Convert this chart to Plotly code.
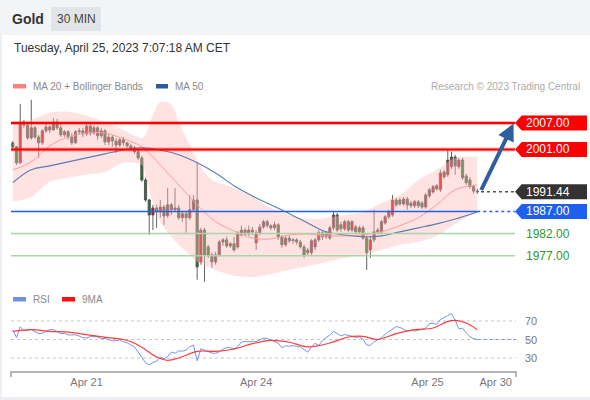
import plotly.graph_objects as go

# ---------------- data ----------------
OPEN = [2002.5, 2001.6, 1998.0, 2007.2, 2006.5, 2003.6, 2005.9, 2003.8, 2002.5, 2005.2,
        2006.1, 2005.4, 2007.2, 2005.9, 2004.3, 2005.0, 2003.8, 2002.5, 2005.0, 2005.2,
        2004.5, 2006.3, 2004.7, 2005.9, 2004.1, 2005.2, 2002.7, 2003.8, 2002.9, 2002.0,
        2003.2, 2002.5, 2001.8, 2001.4, 2000.5, 1999.1, 1994.1, 1989.6, 1986.2, 1987.8,
        1986.9, 1988.0, 1986.0, 1988.5, 1987.4, 1987.8, 1985.6, 1986.5, 1985.6, 1987.4,
        1989.6, 1975.6, 1982.8, 1979.0, 1977.2, 1975.6, 1977.2, 1980.1, 1980.6, 1979.2,
        1979.7, 1979.0, 1981.7, 1982.8, 1981.9, 1982.8, 1979.9, 1982.2, 1983.5, 1984.7,
        1983.8, 1983.3, 1984.0, 1981.3, 1979.5, 1981.0, 1980.4, 1980.6, 1980.1, 1979.0,
        1978.3, 1977.7, 1979.0, 1980.6, 1982.2, 1981.3, 1981.0, 1983.3, 1986.2, 1984.0,
        1983.1, 1984.7, 1982.8, 1983.5, 1982.4, 1983.3, 1981.0, 1978.3, 1980.6, 1982.4,
        1982.4, 1984.4, 1985.8, 1986.2, 1989.6, 1989.6, 1988.7, 1989.8, 1988.9, 1988.3,
        1989.2, 1988.9, 1988.0, 1990.5, 1991.4, 1992.1, 1991.9, 1994.8, 1995.3, 1997.1,
        1999.3, 1997.1, 1998.6, 1995.0, 1994.1, 1992.6, 1991.6]
HIGH = [2002.9, 2001.8, 2011.3, 2007.7, 2007.2, 2012.2, 2006.3, 2004.3, 2005.6, 2006.8,
        2006.5, 2008.1, 2007.9, 2007.2, 2005.4, 2005.4, 2004.7, 2005.4, 2005.9, 2005.9,
        2006.8, 2006.8, 2006.5, 2006.3, 2005.9, 2005.6, 2004.5, 2004.3, 2003.6, 2003.6,
        2003.8, 2002.7, 2002.3, 2001.8, 2000.9, 1999.6, 1994.6, 1989.8, 1988.5, 1988.5,
        1989.6, 1988.5, 1992.3, 1988.9, 1992.3, 1988.5, 1987.1, 1986.9, 1990.7, 1990.7,
        1998.0, 1983.3, 1983.3, 1979.5, 1977.7, 1977.9, 1980.6, 1981.0, 1981.3, 1980.1,
        1981.3, 1982.6, 1983.8, 1983.3, 1983.8, 1983.5, 1982.8, 1984.2, 1985.1, 1985.1,
        1984.2, 1984.7, 1984.4, 1981.7, 1981.5, 1981.5, 1981.0, 1981.0, 1980.6, 1979.5,
        1978.8, 1980.8, 1981.0, 1982.8, 1982.8, 1982.6, 1983.8, 1986.9, 1986.7, 1984.7,
        1985.1, 1985.1, 1985.1, 1984.0, 1983.8, 1983.8, 1981.5, 1981.5, 1987.4, 1983.3,
        1985.1, 1986.2, 1987.4, 1990.7, 1990.1, 1990.1, 1990.3, 1990.3, 1989.4, 1989.6,
        1989.6, 1989.4, 1991.2, 1992.3, 1993.0, 1993.2, 1996.4, 1996.4, 2000.9, 2000.5,
        1999.8, 1999.1, 1999.1, 1995.5, 1994.8, 1993.0, 1992.1]
LOW = [2000.9, 1997.5, 1997.7, 2005.9, 2003.2, 2003.2, 2003.4, 1999.1, 2002.0, 2004.7,
       2004.7, 2005.2, 2005.4, 2003.8, 2003.8, 2003.2, 2002.0, 2002.3, 2004.3, 2003.8,
       2004.1, 2004.1, 2004.3, 2003.2, 2003.6, 2002.0, 2002.0, 2001.6, 2000.2, 2001.6,
       2001.8, 2001.4, 2000.7, 2000.0, 1998.6, 1993.7, 1989.2, 1981.7, 1982.8, 1983.3,
       1985.6, 1984.0, 1985.6, 1986.2, 1986.9, 1985.1, 1984.7, 1982.2, 1985.1, 1986.9,
       1971.6, 1975.0, 1971.1, 1976.5, 1974.3, 1975.0, 1976.8, 1979.2, 1978.8, 1978.8,
       1977.9, 1978.6, 1981.3, 1981.5, 1981.5, 1981.7, 1978.3, 1981.7, 1983.1, 1983.3,
       1982.8, 1982.8, 1980.6, 1978.8, 1979.0, 1979.9, 1979.7, 1979.5, 1978.6, 1976.5,
       1977.0, 1977.2, 1978.3, 1980.1, 1980.6, 1980.8, 1980.6, 1982.8, 1982.4, 1982.4,
       1982.6, 1982.4, 1982.4, 1981.9, 1981.9, 1980.6, 1973.8, 1976.5, 1980.1, 1981.9,
       1981.9, 1984.0, 1985.3, 1985.8, 1988.0, 1988.3, 1988.3, 1987.4, 1987.8, 1987.8,
       1987.8, 1987.6, 1987.6, 1990.1, 1991.0, 1991.7, 1991.4, 1994.4, 1994.8, 1996.6,
       1995.3, 1996.6, 1994.1, 1993.0, 1992.1, 1991.0, 1991.0]
CLOSE = [2001.6, 1998.0, 2007.2, 2006.5, 2003.6, 2005.9, 2003.8, 2002.5, 2005.2, 2006.1,
         2005.4, 2007.2, 2005.9, 2004.3, 2005.0, 2003.8, 2002.5, 2005.0, 2005.2, 2004.5,
         2006.3, 2004.7, 2005.9, 2004.1, 2005.2, 2002.7, 2003.8, 2002.9, 2002.0, 2003.2,
         2002.5, 2001.8, 2001.4, 2000.5, 1999.1, 1994.1, 1989.6, 1986.2, 1987.8, 1986.9,
         1988.0, 1986.0, 1988.5, 1987.4, 1987.8, 1985.6, 1986.5, 1985.6, 1987.4, 1989.6,
         1974.5, 1982.8, 1977.2, 1977.2, 1975.6, 1977.2, 1980.1, 1980.6, 1979.2, 1979.7,
         1978.3, 1982.2, 1982.8, 1981.9, 1982.8, 1982.4, 1982.2, 1983.5, 1984.7, 1983.8,
         1983.3, 1984.0, 1981.3, 1979.5, 1981.0, 1980.4, 1980.6, 1980.1, 1979.0, 1977.2,
         1977.7, 1980.4, 1980.6, 1982.2, 1981.3, 1982.2, 1983.3, 1986.2, 1982.8, 1983.1,
         1984.7, 1982.8, 1984.7, 1982.4, 1983.3, 1981.0, 1977.7, 1980.6, 1982.4, 1982.8,
         1984.7, 1985.8, 1986.9, 1989.6, 1988.5, 1988.7, 1989.8, 1988.5, 1988.3, 1989.2,
         1988.3, 1988.0, 1990.7, 1991.9, 1992.6, 1992.8, 1995.7, 1995.9, 1998.6, 1999.3,
         1997.3, 1998.6, 1994.6, 1993.5, 1992.6, 1991.6, 1991.44]

BAND_X = [0, 5, 10, 15, 20, 25, 30, 35, 36, 38, 40, 43, 45, 48, 50, 53, 55, 60, 65, 70,
          75, 80, 85, 90, 95, 100, 105, 110, 115, 120, 126]
BAND_UPPER = [2007.2, 2007.7, 2009.3, 2009.5, 2008.6, 2007.2, 2005.4, 2003.6, 2004.3, 2008.8,
              2011.7, 2011.1, 2007.2, 2002.0, 1998.6, 1994.8, 1993.7, 1992.3, 1990.3, 1987.8,
              1986.2, 1985.3, 1985.6, 1986.2, 1986.9, 1988.9, 1990.7, 1994.1, 1996.4, 1999.1,
              1999.3]
BAND_LOWER = [1989.2, 1990.3, 1993.7, 1994.6, 1995.3, 1995.9, 1998.0, 1997.5, 1995.3, 1988.9,
              1984.7, 1981.3, 1979.5, 1977.2, 1975.6, 1974.5, 1973.8, 1972.5, 1972.2, 1972.9,
              1973.8, 1974.7, 1975.6, 1976.5, 1977.2, 1978.3, 1979.5, 1980.1, 1981.5, 1984.2,
              1986.9]
MA_X = [0, 5, 10, 15, 20, 25, 30, 35, 40, 45, 50, 55, 60, 65, 70, 75, 80, 85, 90, 95,
        100, 105, 110, 115, 120, 126]
MA20 = [1996.4, 1998.2, 2001.8, 2003.8, 2004.7, 2004.7, 2003.4, 2001.6, 1997.5, 1993.0,
        1988.5, 1984.7, 1982.6, 1981.0, 1980.8, 1981.7, 1981.9, 1981.5, 1981.5, 1981.7,
        1982.4, 1983.8, 1985.6, 1988.5, 1991.9, 1993.0]
MA50 = [1993.5, 1996.4, 1997.3, 1998.2, 1999.1, 2000.0, 2000.9, 2001.4, 2000.9, 1999.8,
        1998.0, 1995.7, 1992.8, 1990.5, 1988.5, 1986.5, 1984.4, 1982.4, 1981.7, 1981.3,
        1981.5, 1982.4, 1983.3, 1984.2, 1985.3, 1986.9]

RSI = [60.0, 52.2, 63.7, 59.6, 59.8, 60.8, 58.4, 56.4, 56.8, 59.2,
       60.7, 60.7, 58.3, 56.4, 56.6, 54.9, 55.0, 55.1, 53.7, 52.0,
       51.8, 53.1, 53.2, 52.8, 51.0, 51.3, 49.7, 48.8, 48.8, 49.5,
       47.6, 46.5, 44.1, 41.9, 36.4, 30.6, 24.9, 22.5, 25.3, 26.4,
       30.9, 29.2, 31.5, 36.5, 35.1, 37.7, 37.4, 38.6, 42.2, 44.1,
       27.0, 40.0, 38.5, 36.5, 35.4, 35.0, 36.7, 39.5, 41.2, 41.2,
       40.0, 42.4, 47.3, 47.7, 47.7, 47.5, 47.6, 49.7, 51.6, 51.2,
       49.6, 48.4, 46.1, 41.1, 43.2, 42.7, 43.3, 42.6, 42.0, 39.1,
       36.2, 42.1, 45.8, 43.7, 48.8, 52.2, 54.7, 58.9, 56.4, 53.9,
       55.4, 54.7, 53.6, 52.3, 52.7, 50.3, 44.0, 43.6, 47.6, 49.7,
       52.1, 55.6, 58.1, 60.8, 64.0, 63.1, 61.3, 59.1, 59.7, 59.1,
       60.1, 60.7, 62.2, 67.1, 67.6, 66.4, 71.5, 73.3, 75.8, 78.0,
       71.0, 61.4, 62.2, 57.1, 53.2, 50.9, 50.0]
RSI_MA_X = [0, 5, 10, 15, 20, 25, 30, 33, 36, 39, 42, 45, 50, 55, 60, 65, 70, 75, 80, 86,
            91, 95, 99, 104, 109, 114, 118, 120, 123, 126]
RSI_MA = [58.8, 60.6, 58.8, 58.0, 55.2, 52.3, 50.0, 46.0, 39.0, 31.0, 27.5, 30.0, 37.2, 37.2,
          39.7, 45.5, 49.0, 47.0, 42.0, 46.2, 52.7, 53.4, 50.0, 56.3, 60.6, 62.4, 69.6, 70.7,
          67.8, 60.6]

RESISTANCES = [2007.00, 2001.00]
PIVOT = 1987.00
SUPPORTS = [1982.00, 1977.00]
LAST_PRICE = 1991.44
TICK_POS = [20, 66, 112.5, 131]
TICK_TEXT = ["Apr 21", "Apr 24", "Apr 25", "Apr 30"]
RSI_LEVELS = [70, 50, 30]

# ---------------- geometry helpers (pixel -> paper) ----------------
W, H = 590, 400
def px(x):
    return x / W
def py(y):
    return 1 - y / H

FONT = "Liberation Sans, Arial, Helvetica, sans-serif"
X_RANGE = [-0.5, 136.5]
IDX = list(range(len(CLOSE)))

fig = go.Figure()

# Bollinger band
fig.add_trace(go.Scatter(x=BAND_X, y=BAND_UPPER, mode="lines", line=dict(width=0, shape="spline"),
                         hoverinfo="skip", showlegend=False))
fig.add_trace(go.Scatter(x=BAND_X, y=BAND_LOWER, mode="lines", line=dict(width=0, shape="spline"),
                         fill="tonexty", fillcolor="rgba(255,185,185,0.42)",
                         hoverinfo="skip", showlegend=False))
# moving averages
fig.add_trace(go.Scatter(x=MA_X, y=MA20, mode="lines", line=dict(color="#ff9a9a", width=1, shape="spline"),
                         showlegend=False))
fig.add_trace(go.Scatter(x=MA_X, y=MA50, mode="lines", line=dict(color="#5a7db3", width=1.1, shape="spline"),
                         showlegend=False))
# candles
fig.add_trace(go.Candlestick(
    x=IDX, open=OPEN, high=HIGH, low=LOW, close=CLOSE,
    increasing=dict(fillcolor="#e60000", line=dict(color="#505050", width=0.9)),
    decreasing=dict(fillcolor="#1f7a1f", line=dict(color="#505050", width=0.9)),
    whiskerwidth=0, showlegend=False))

# RSI pane
fig.add_trace(go.Scatter(x=IDX, y=RSI, yaxis="y2", mode="lines",
                         line=dict(color="#7595e8", width=1), showlegend=False))
fig.add_trace(go.Scatter(x=RSI_MA_X, y=RSI_MA, yaxis="y2", mode="lines",
                         line=dict(color="#ff3b3b", width=1.2, shape="spline"), showlegend=False))

shapes = []
# frame / header backgrounds
shapes.append(dict(type="rect", xref="paper", yref="paper", x0=0, x1=1, y0=py(35), y1=1,
                   fillcolor="#f3f4f6", line=dict(width=0), layer="below"))
shapes.append(dict(type="rect", xref="paper", yref="paper", x0=0, x1=px(2), y0=0, y1=py(35),
                   fillcolor="#eceef1", line=dict(width=0), layer="below"))
shapes.append(dict(type="rect", xref="paper", yref="paper", x0=0, x1=1, y0=0, y1=py(397),
                   fillcolor="#eceef1", line=dict(width=0), layer="below"))
shapes.append(dict(type="rect", xref="paper", yref="paper", x0=px(51), x1=px(101), y0=py(31), y1=py(7),
                   fillcolor="#e3e4e7", line=dict(width=0), layer="below"))
# legend swatches
shapes.append(dict(type="rect", xref="paper", yref="paper", x0=px(13), x1=px(26), y0=py(88.5), y1=py(84),
                   fillcolor="#ff7f7f", line=dict(width=0)))
shapes.append(dict(type="rect", xref="paper", yref="paper", x0=px(156), x1=px(168), y0=py(88.5), y1=py(84),
                   fillcolor="#2d5a9b", line=dict(width=0)))
shapes.append(dict(type="rect", xref="paper", yref="paper", x0=px(13), x1=px(26), y0=py(301.5), y1=py(297),
                   fillcolor="#7090e0", line=dict(width=0)))
shapes.append(dict(type="rect", xref="paper", yref="paper", x0=px(62), x1=px(75), y0=py(301.5), y1=py(297),
                   fillcolor="#ff1010", line=dict(width=0)))

TIP_X = 136.2
# support lines (green)
for lv in SUPPORTS:
    shapes.append(dict(type="line", xref="x", yref="y", x0=X_RANGE[0], x1=TIP_X, y0=lv, y1=lv,
                       line=dict(color="#a9d6a9", width=1.5), layer="above"))
# pivot blue line: solid up to last candle then dotted
shapes.append(dict(type="line", xref="x", yref="y", x0=X_RANGE[0], x1=len(CLOSE) - 1, y0=PIVOT, y1=PIVOT,
                   line=dict(color="#1f5fef", width=1.5), layer="above"))
shapes.append(dict(type="line", xref="x", yref="y", x0=len(CLOSE) - 1, x1=TIP_X, y0=PIVOT, y1=PIVOT,
                   line=dict(color="#1f5fef", width=1.5, dash="dot"), layer="above"))
# last price dotted
shapes.append(dict(type="line", xref="x", yref="y", x0=len(CLOSE), x1=TIP_X, y0=LAST_PRICE, y1=LAST_PRICE,
                   line=dict(color="#555555", width=1.5, dash="dot"), layer="above"))
# resistance red lines
for lv in RESISTANCES:
    shapes.append(dict(type="line", xref="x", yref="y", x0=X_RANGE[0], x1=TIP_X, y0=lv, y1=lv,
                       line=dict(color="rgba(255,0,0,0.3)", width=4), layer="above"))
    shapes.append(dict(type="line", xref="x", yref="y", x0=X_RANGE[0], x1=TIP_X, y0=lv, y1=lv,
                       line=dict(color="#ff0000", width=2), layer="above"))

# right-hand price tags
tag_path = "M0,0 L6.7,7.5 L72,7.5 L72,-7.5 L6.7,-7.5 Z"
for lv, col in [(RESISTANCES[0], "#ff0000"), (RESISTANCES[1], "#ff0000"),
                (LAST_PRICE, "#333333"), (PIVOT, "#1f5fef")]:
    shapes.append(dict(type="path", xref="paper", yref="y", xsizemode="pixel", ysizemode="pixel",
                       xanchor=px(515), yanchor=lv, path=tag_path, fillcolor=col,
                       line=dict(width=0), layer="above"))

# RSI dotted grid
for lv in RSI_LEVELS:
    shapes.append(dict(type="line", xref="x", yref="y2", x0=X_RANGE[0], x1=X_RANGE[1], y0=lv, y1=lv,
                       line=dict(color="#c4c4c4", width=1, dash="dot"), layer="below"))
# RSI dotted projection
shapes.append(dict(type="line", xref="x", yref="y2", x0=len(RSI) - 1, x1=X_RANGE[1], y0=RSI[-1], y1=RSI[-1],
                   line=dict(color="#7595e8", width=1, dash="dot")))
# axis end ticks
for xx in [11, 516]:
    shapes.append(dict(type="line", xref="paper", yref="paper", x0=px(xx), x1=px(xx), y0=py(371), y1=py(377),
                       line=dict(color="#b5b5b5", width=2)))

annotations = []
def txt(x, y, s, size=12, color="#333", anchor="left", bold=False, yref="paper"):
    annotations.append(dict(x=x, y=y, xref="paper", yref=yref, text=("<b>%s</b>" % s) if bold else s,
                            showarrow=False, xanchor=anchor, yanchor="middle",
                            font=dict(family=FONT, size=size, color=color)))

txt(px(10), py(18.5), "Gold", 14, "#333333", bold=True)
txt(px(76), py(19), "30 MIN", 12, "#444444", anchor="center")
txt(px(12), py(48), "Tuesday, April 25, 2023 7:07:18 AM CET", 12, "#333333")
txt(px(31), py(86.3), "MA 20 + Bollinger Bands", 10, "#8a8a8a")
txt(px(173), py(86.3), "MA 50", 10, "#8a8a8a")
txt(px(581.5), py(86.3), "Research © 2023 Trading Central", 10, "#acacac", anchor="right")
txt(px(31), py(299.3), "RSI", 10, "#8a8a8a")
txt(px(80), py(299.3), "9MA", 10, "#8a8a8a")

for lv, s in [(RESISTANCES[0], "2007.00"), (RESISTANCES[1], "2001.00"),
              (LAST_PRICE, "1991.44"), (PIVOT, "1987.00")]:
    txt(px(524), lv, s, 12, "#ffffff", yref="y")
for lv in SUPPORTS:
    txt(px(524), lv, "%.2f" % lv, 12, "#2f962f", yref="y")
for lv in RSI_LEVELS:
    annotations.append(dict(x=px(523), y=lv, xref="paper", yref="y2", text=str(lv), showarrow=False,
                            xanchor="left", yanchor="middle", font=dict(family=FONT, size=11, color="#777")))

# forecast arrow
annotations.append(dict(x=px(513.5), y=py(123.5), xref="paper", yref="paper", text="",
                        showarrow=True, ax=-33, ay=68, arrowhead=2, arrowsize=0.85, arrowwidth=4,
                        arrowcolor="#2d5f9e"))

fig.update_layout(
    width=W, height=H, margin=dict(l=0, r=0, t=0, b=0),
    paper_bgcolor="#ffffff", plot_bgcolor="rgba(0,0,0,0)",
    showlegend=False, shapes=shapes, annotations=annotations,
    font=dict(family=FONT), boxgap=0.15,
    xaxis=dict(domain=[px(11), px(516)], range=X_RANGE, anchor="y2", showgrid=False, zeroline=False,
               showline=True, linecolor="#b5b5b5", linewidth=2, ticks="",
               tickvals=TICK_POS, ticktext=TICK_TEXT, tickfont=dict(size=11, color="#777777"),
               rangeslider=dict(visible=False), fixedrange=True),
    yaxis=dict(domain=[py(285), py(95)], range=[1970.4, 2013.3], visible=False, fixedrange=True),
    yaxis2=dict(domain=[py(371), py(308)], range=[15.95, 84.05], visible=False, fixedrange=True),
)

fig.write_html("out.html", config={"displayModeBar": False},
               post_script="document.body.style.margin='0';document.body.style.overflow='hidden';")
